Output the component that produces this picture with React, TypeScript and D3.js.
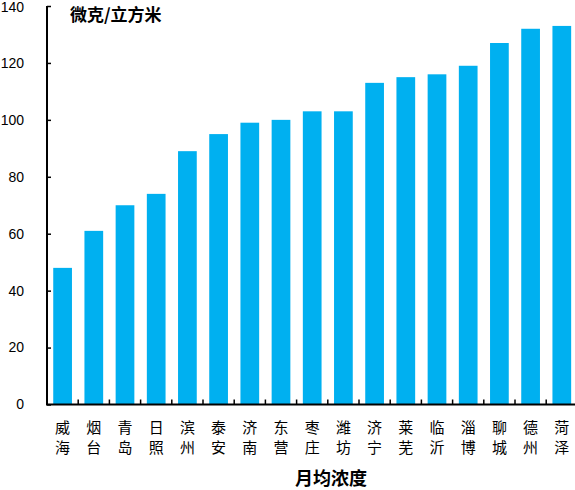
import React, { useEffect, useRef } from "react";
import * as d3 from "d3";

const cities = [
  "威海", "烟台", "青岛", "日照", "滨州", "泰安", "济南", "东营", "枣庄",
  "潍坊", "济宁", "莱芜", "临沂", "淄博", "聊城", "德州", "菏泽",
];
const values = [48, 61, 70, 74, 89, 95, 99, 100, 103, 103, 113, 115, 116, 119, 127, 132, 133];
const yTicks = [0, 20, 40, 60, 80, 100, 120, 140];

const App: React.FC = () => {
  const svgRef = useRef<SVGSVGElement | null>(null);

  useEffect(() => {
    document.body.style.margin = "0";
    if (!svgRef.current) return;
    const svg = d3.select(svgRef.current);
    svg.selectAll("*").remove();

    const left = 47;
    const step = 31.2;
    const x = d3
      .scaleBand<string>()
      .domain(cities)
      .range([left, left + step * cities.length])
      .paddingInner(0.4)
      .paddingOuter(0.2);
    const y = d3.scaleLinear().domain([0, 140]).range([404.5, 6]);

    // Bars
    svg
      .append("g")
      .selectAll("rect")
      .data(values)
      .join("rect")
      .attr("x", (_, i) => x(cities[i]) as number)
      .attr("width", x.bandwidth())
      .attr("y", (d) => y(d))
      .attr("height", (d) => y(0) - y(d))
      .attr("fill", "#00B0F0");

    // Y axis (ticks point inward)
    svg
      .append("g")
      .attr("transform", `translate(${left},0)`)
      .call(d3.axisRight(y).tickValues(yTicks).tickSize(4).tickFormat(() => ""))
      .call((g) => g.select(".domain").attr("stroke", "#000").attr("stroke-width", 2).attr("d", `M0,${y(140)}V${y(0)}`))
      .call((g) => g.selectAll(".tick line").attr("stroke", "#000").attr("stroke-width", 1.5));

    svg
      .append("g")
      .selectAll("text")
      .data(yTicks)
      .join("text")
      .attr("x", 24)
      .attr("y", (d) => Math.max(y(d), 7))
      .attr("dy", "0.35em")
      .attr("text-anchor", "end")
      .attr("font-family", "Liberation Sans, Arial, sans-serif")
      .attr("font-size", 14)
      .attr("fill", "#000")
      .text((d) => d);

    // X axis
    const xEdges = d3.range(cities.length + 1).map((i) => left + i * step);
    svg
      .append("line")
      .attr("x1", left - 1)
      .attr("x2", left + step * cities.length)
      .attr("y1", y(0))
      .attr("y2", y(0))
      .attr("stroke", "#000")
      .attr("stroke-width", 2);
    svg
      .append("g")
      .selectAll("line")
      .data(xEdges.slice(1))
      .join("line")
      .attr("x1", (d) => d)
      .attr("x2", (d) => d)
      .attr("y1", y(0))
      .attr("y2", y(0) - 5)
      .attr("stroke", "#000")
      .attr("stroke-width", 1.5);

    // Category labels, two characters stacked
    [0, 1].forEach((row) => {
      svg
        .append("g")
        .selectAll("text")
        .data(cities)
        .join("text")
        .attr("x", (d) => (x(d) as number) + x.bandwidth() / 2)
        .attr("y", 433 + row * 20)
        .attr("text-anchor", "middle")
        .attr("font-family", "Noto Sans CJK SC, sans-serif")
        .attr("font-size", 15)
        .attr("fill", "#000")
        .text((d) => d[row]);
    });

    // Unit label
    svg
      .append("text")
      .attr("x", 70)
      .attr("y", 21)
      .attr("font-family", "Noto Sans CJK SC, sans-serif")
      .attr("font-size", 17)
      .attr("font-weight", "bold")
      .attr("fill", "#000")
      .text("微克/立方米");

    // X title
    svg
      .append("text")
      .attr("x", 331)
      .attr("y", 485)
      .attr("text-anchor", "middle")
      .attr("font-family", "Noto Sans CJK SC, sans-serif")
      .attr("font-size", 18)
      .attr("font-weight", "bold")
      .attr("fill", "#000")
      .text("月均浓度");
  }, []);

  return <svg ref={svgRef} width={575} height={490} style={{ display: "block" }} />;
};

export default App;
